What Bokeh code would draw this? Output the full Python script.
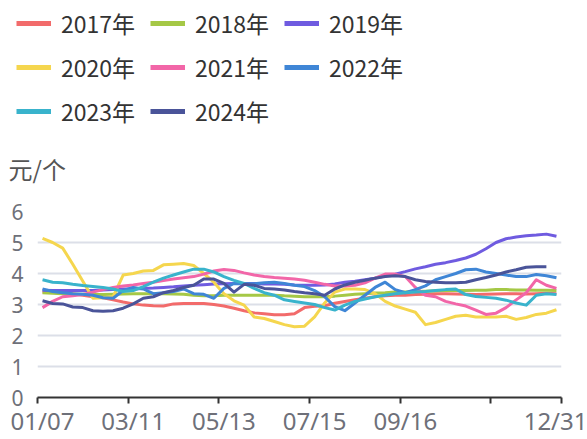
from bokeh.plotting import figure
from bokeh.layouts import column
from bokeh.models import FixedTicker, Legend, LegendItem, Label, Range1d
from bokeh.embed import file_html
from bokeh.resources import INLINE

dates = ["01/07", "01/14", "01/21", "01/28", "02/04", "02/11", "02/18", "02/25", "03/04", "03/11",
         "03/18", "03/25", "04/01", "04/08", "04/15", "04/22", "04/29", "05/06", "05/13", "05/20",
         "05/27", "06/03", "06/10", "06/17", "06/24", "07/01", "07/08", "07/15", "07/22", "07/29",
         "08/05", "08/12", "08/19", "08/26", "09/02", "09/09", "09/16", "09/23", "09/30", "10/07",
         "10/14", "10/21", "10/28", "11/04", "11/11", "11/18", "11/25", "12/02", "12/09", "12/16",
         "12/23", "12/31"]

y2017 = [3.40, 3.40, 3.38, 3.35, 3.30, 3.25, 3.22, 3.15, 3.08, 3.02, 2.98, 2.96, 2.95, 3.02, 3.03,
         3.03, 3.03, 3.00, 2.95, 2.88, 2.80, 2.73, 2.70, 2.67, 2.67, 2.70, 2.90, 2.94, 2.96, 3.04,
         3.10, 3.15, 3.20, 3.25, 3.28, 3.30, 3.30, 3.32, 3.33, 3.35, 3.35, 3.34, 3.33, 3.32, 3.33,
         3.34, 3.35, 3.35, 3.34, 3.35, 3.36, 3.35]
y2018 = [3.38, 3.36, 3.35, 3.33, 3.33, 3.32, 3.32, 3.33, 3.34, 3.35, 3.35, 3.35, 3.35, 3.34, 3.33,
         3.30, 3.28, 3.28, 3.30, 3.30, 3.30, 3.30, 3.30, 3.30, 3.28, 3.27, 3.25, 3.25, 3.25, 3.27,
         3.30, 3.33, 3.35, 3.37, 3.38, 3.40, 3.40, 3.42, 3.43, 3.44, 3.45, 3.45, 3.45, 3.46, 3.46,
         3.48, 3.48, 3.47, 3.47, 3.46, 3.46, 3.45]
y2019 = [3.46, 3.45, 3.45, 3.45, 3.45, 3.45, 3.47, 3.48, 3.50, 3.50, 3.52, 3.53, 3.55, 3.57, 3.60,
         3.62, 3.64, 3.66, 3.67, 3.68, 3.68, 3.68, 3.66, 3.66, 3.65, 3.63, 3.62, 3.62, 3.63, 3.66,
         3.72, 3.75, 3.80, 3.85, 3.92, 3.98, 4.06, 4.15, 4.22, 4.30, 4.35, 4.42, 4.50, 4.62, 4.80,
         5.00, 5.12, 5.18, 5.22, 5.24, 5.27, 5.20]
y2020 = [5.13, 5.00, 4.82, 4.30, 3.75, 3.20, 3.22, 3.25, 3.95, 4.00, 4.08, 4.10, 4.28, 4.30, 4.32,
         4.26, 4.00, 3.72, 3.35, 3.12, 2.98, 2.60, 2.55, 2.45, 2.35, 2.28, 2.30, 2.60, 3.05, 3.40,
         3.50, 3.50, 3.48, 3.35, 3.10, 2.95, 2.85, 2.75, 2.35, 2.42, 2.52, 2.62, 2.65, 2.60, 2.60,
         2.60, 2.62, 2.52, 2.58, 2.68, 2.72, 2.83]
y2021 = [2.90, 3.10, 3.25, 3.28, 3.32, 3.40, 3.48, 3.55, 3.60, 3.63, 3.68, 3.72, 3.77, 3.82, 3.86,
         3.90, 3.98, 4.08, 4.13, 4.10, 4.02, 3.95, 3.90, 3.87, 3.85, 3.82, 3.78, 3.72, 3.65, 3.60,
         3.60, 3.62, 3.70, 3.85, 3.98, 3.98, 3.90, 3.55, 3.30, 3.25, 3.10, 3.02, 2.95, 2.82, 2.68,
         2.72, 2.90, 3.15, 3.38, 3.80, 3.62, 3.52]
y2022 = [3.50, 3.42, 3.38, 3.35, 3.33, 3.30, 3.22, 3.20, 3.45, 3.55, 3.50, 3.35, 3.38, 3.42, 3.50,
         3.35, 3.33, 3.20, 3.52, 3.68, 3.67, 3.67, 3.70, 3.72, 3.68, 3.62, 3.58, 3.45, 3.25, 2.93,
         2.80, 3.05, 3.30, 3.55, 3.72, 3.48, 3.38, 3.48, 3.60, 3.80, 3.90, 4.00, 4.12, 4.14, 4.05,
         4.00, 3.95, 3.90, 3.90, 3.97, 3.93, 3.86]
y2023 = [3.80, 3.72, 3.70, 3.65, 3.61, 3.58, 3.55, 3.50, 3.42, 3.45, 3.58, 3.72, 3.85, 3.95, 4.05,
         4.14, 4.14, 4.05, 3.90, 3.78, 3.68, 3.52, 3.38, 3.30, 3.15, 3.10, 3.05, 3.00, 2.90, 2.82,
         2.98, 3.10, 3.18, 3.25, 3.30, 3.35, 3.38, 3.40, 3.42, 3.45, 3.48, 3.50, 3.32, 3.26, 3.23,
         3.20, 3.14, 3.05, 2.98, 3.30, 3.35, 3.32]
y2024 = [3.12, 3.03, 3.02, 2.92, 2.90, 2.80, 2.78, 2.80, 2.88, 3.02, 3.20, 3.25, 3.38, 3.45, 3.55,
         3.62, 3.82, 3.82, 3.68, 3.40, 3.65, 3.62, 3.52, 3.50, 3.47, 3.42, 3.38, 3.35, 3.30, 3.50,
         3.63, 3.72, 3.78, 3.85, 3.90, 3.93, 3.90, 3.80, 3.74, 3.72, 3.70, 3.70, 3.72, 3.80, 3.87,
         3.95, 4.05, 4.12, 4.20, 4.22, 4.22]

series_names = ["2017年", "2018年", "2019年", "2020年", "2021年", "2022年", "2023年", "2024年"]
series_vals = [y2017, y2018, y2019, y2020, y2021, y2022, y2023, y2024]
colors = ["#F26B6B", "#A5C846", "#6F5BE0", "#F5D64E", "#F266A8", "#3F86D6", "#39B3CC", "#4A5499"]
y_ticks = [0, 1, 2, 3, 4, 5, 6]
label_idx = [0, 9, 18, 27, 36, 51]
tick_idx = [0, 9, 18, 27, 36, 45, 52]

CJK = "Noto Sans CJK SC"
LAT = "Noto Sans"
n = len(dates)
W = 587
TOP_H = 197
MAIN_H = 242
NAN = float("nan")

# ---- header figure: legend + unit label ----
ph = figure(width=W, height=TOP_H, output_backend="svg", toolbar_location=None, title=None,
            x_range=Range1d(0, W), y_range=Range1d(0, TOP_H),
            x_axis_location=None, y_axis_location=None,
            min_border=0, min_border_left=0, min_border_right=0,
            min_border_top=0, min_border_bottom=0)
ph.frame_align = False
ph.outline_line_color = None
ph.xgrid.visible = False
ph.ygrid.visible = False

items = []
for name, c in zip(series_names, colors):
    dummy = ph.line([NAN], [NAN], line_color=c, line_width=5)
    items.append(LegendItem(label=name, renderers=[dummy]))

legend = Legend(items=items, orientation="horizontal", ncols=3, location=(16, 68),
                glyph_width=35, glyph_height=36, label_height=36, label_width=81,
                label_standoff=10, spacing=8, padding=0, margin=0,
                border_line_color=None, background_fill_alpha=0,
                label_text_font=CJK, label_text_font_size="23px",
                label_text_color="#333333")
ph.add_layout(legend, "center")

unit = Label(x=8, y=29, text="元/个", text_font=CJK, text_font_size="24px",
             text_color="#555555", text_align="left", text_baseline="middle")
ph.add_layout(unit)

# ---- main chart ----
p = figure(width=W, height=MAIN_H, output_backend="svg", toolbar_location=None, title=None,
           x_range=Range1d(-0.5, n - 0.5), y_range=Range1d(0, 6),
           min_border_left=37, min_border_right=26,
           min_border_top=14, min_border_bottom=37)
p.frame_align = False
p.outline_line_color = None
p.xgrid.visible = False
p.ygrid.grid_line_color = "#DCDFE8"
p.ygrid.grid_line_width = 2
p.ygrid.ticker = FixedTicker(ticks=y_ticks)

ya = p.yaxis[0]
ya.ticker = FixedTicker(ticks=y_ticks)
ya.axis_line_color = None
ya.major_tick_line_color = None
ya.minor_tick_line_color = None
ya.major_tick_out = 0
ya.major_label_standoff = 14
ya.major_label_text_font = LAT
ya.major_label_text_font_size = "21px"
ya.major_label_text_color = "#6E7079"

xa = p.xaxis[0]
xa.ticker = FixedTicker(ticks=label_idx, minor_ticks=[t - 0.5 for t in tick_idx])
xa.major_label_overrides = {i: dates[i] for i in label_idx}
xa.axis_line_color = "#333333"
xa.axis_line_width = 2
xa.major_tick_line_color = None
xa.major_tick_out = 0
xa.major_tick_in = 0
xa.minor_tick_line_color = "#333333"
xa.minor_tick_line_width = 2
xa.minor_tick_out = 6
xa.minor_tick_in = 0
xa.major_label_standoff = 0
xa.major_label_text_line_height = 1.0
xa.major_label_text_font = LAT
xa.major_label_text_font_size = "24px"
xa.major_label_text_color = "#6E7079"

for vals, c in zip(series_vals, colors):
    xs = list(range(len(vals)))
    p.line(xs, vals, line_color=c, line_width=3, line_join="round")

layout = column(ph, p, spacing=0)
open("out.html", "w").write(file_html(layout, INLINE))
